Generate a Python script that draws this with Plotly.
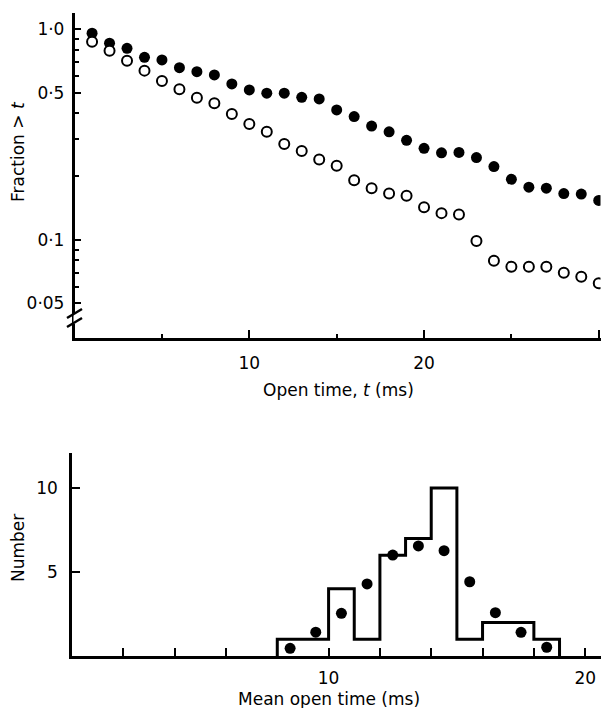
import plotly.graph_objects as go

# ---------------- data ----------------
open_time_t = list(range(1, 31))
fraction_filled = [0.957, 0.858, 0.812, 0.736, 0.715, 0.657, 0.629, 0.607, 0.550, 0.515,
                   0.497, 0.497, 0.475, 0.467, 0.414, 0.385, 0.347, 0.326, 0.297, 0.272,
                   0.259, 0.260, 0.246, 0.223, 0.194, 0.178, 0.176, 0.166, 0.165, 0.154]
fraction_open = [0.873, 0.791, 0.709, 0.636, 0.568, 0.519, 0.473, 0.445, 0.396, 0.355,
                 0.326, 0.285, 0.264, 0.241, 0.225, 0.192, 0.176, 0.166, 0.162, 0.143,
                 0.134, 0.132, 0.0988, 0.0797, 0.0746, 0.0746, 0.0746, 0.0699, 0.0669, 0.0622]

top_ytick_vals = [1.0, 0.5, 0.1, 0.05]
top_ytick_text = ["1·0", "0·5", "0·1", "0·05"]
top_yminor_vals = [0.9, 0.8, 0.7, 0.6, 0.4, 0.3, 0.2, 0.09, 0.08, 0.07, 0.06]
top_xtick_vals = [10, 20, 30]
top_xtick_text = ["10", "20", ""]
top_xminor_vals = [5, 15, 25]

hist_left_edges = [8, 9, 10, 11, 12, 13, 14, 15, 16, 17, 18]
hist_right_end = 19
hist_counts = [1, 1, 4, 1, 6, 7, 10, 1, 2, 2, 1]
fit_x = [8.5, 9.5, 10.5, 11.5, 12.5, 13.5, 14.5, 15.5, 16.5, 17.5, 18.5]
fit_y = [0.46, 1.42, 2.54, 4.29, 6.01, 6.55, 6.27, 4.42, 2.58, 1.41, 0.52]

bot_xtick_vals = [2, 4, 6, 8, 10, 12, 14, 16, 18, 20]
bot_xtick_text = ["", "", "", "", "10", "", "", "", "", "20"]
bot_ytick_vals = [5, 10]
bot_ytick_text = ["5", "10"]

# ---------------- geometry helpers ----------------
# the page body has an 8px margin, so the figure starts at (8, 8) in the window
OFF = 8
W, H = 609 - OFF, 708 - OFF
def px(x):
    return (x - OFF) / W
def py(y):
    return 1 - (y - OFF) / H

FONT = "DejaVu Sans"
FS = 17

fig = go.Figure()

# top panel
fig.add_trace(go.Scatter(
    x=open_time_t, y=fraction_filled, mode="markers",
    marker=dict(symbol="circle", size=11, color="black", line=dict(width=0)),
    xaxis="x", yaxis="y", showlegend=False))
fig.add_trace(go.Scatter(
    x=open_time_t, y=fraction_open, mode="markers",
    marker=dict(symbol="circle", size=10, color="white", line=dict(width=2, color="black")),
    xaxis="x", yaxis="y", showlegend=False))

# bottom panel: histogram outline
step_x = [hist_left_edges[0]] + hist_left_edges + [hist_right_end]
step_y = [0] + hist_counts + [0]
fig.add_trace(go.Scatter(
    x=step_x, y=step_y, mode="lines", line=dict(shape="hv", color="black", width=3),
    xaxis="x2", yaxis="y2", showlegend=False))
fig.add_trace(go.Scatter(
    x=fit_x, y=fit_y, mode="markers",
    marker=dict(symbol="circle", size=11, color="black"),
    xaxis="x2", yaxis="y2", showlegend=False))

axis_common = dict(showgrid=False, zeroline=False, showline=True, linecolor="black",
                   linewidth=2.5, tickcolor="black", tickwidth=2, ticks="inside",
                   tickfont=dict(family=FONT, size=FS, color="black"))

fig.update_layout(
    width=W, height=H,
    margin=dict(l=0, r=0, t=0, b=0),
    paper_bgcolor="white", plot_bgcolor="white",
    font=dict(family=FONT, size=FS, color="black"),
    xaxis=dict(domain=[px(74.6), px(600.5)], range=[0, 30.1], anchor="y",
               tickmode="array", tickvals=top_xtick_vals, ticktext=top_xtick_text,
               ticklen=9, ticklabelstandoff=8,
               minor=dict(tickmode="array", tickvals=top_xminor_vals, ticks="inside",
                          ticklen=5, tickwidth=2, tickcolor="black"),
               **axis_common),
    yaxis=dict(domain=[py(338.3), py(13)], type="log", range=[-1.467, 0.077], anchor="x",
               tickmode="array", tickvals=top_ytick_vals, ticktext=top_ytick_text,
               ticklen=7, ticklabelstandoff=4,
               minor=dict(tickmode="array", tickvals=top_yminor_vals, ticks="inside",
                          ticklen=5, tickwidth=2, tickcolor="black"),
               **axis_common),
    xaxis2=dict(domain=[px(72), px(607)], range=[0, 20.85], anchor="y2",
                tickmode="array", tickvals=bot_xtick_vals, ticktext=bot_xtick_text,
                ticklen=8, ticklabelstandoff=5, **axis_common),
    yaxis2=dict(domain=[py(656), py(452.7)], range=[0, 12.1], anchor="x2",
                tickmode="array", tickvals=bot_ytick_vals, ticktext=bot_ytick_text,
                ticklen=8, ticklabelstandoff=8, **axis_common),
)

# axis titles
ann = dict(xref="paper", yref="paper", showarrow=False,
           font=dict(family=FONT, size=FS, color="black"))
fig.add_annotation(text="Open time, <i>t</i> (ms)", x=px(338), y=py(390),
                   xanchor="center", yanchor="middle", **ann)
fig.add_annotation(text="Fraction > <i>t</i>", x=px(18), y=py(152), textangle=-90,
                   xanchor="center", yanchor="middle", **ann)
fig.add_annotation(text="Mean open time (ms)", x=px(329), y=py(699),
                   xanchor="center", yanchor="middle", **ann)
fig.add_annotation(text="Number", x=px(18), y=py(548), textangle=-90,
                   xanchor="center", yanchor="middle", **ann)

# axis break marks on top y axis
fig.add_shape(type="line", xref="paper", yref="paper", x0=px(75.5), x1=px(75.5),
              y0=py(313), y1=py(324), line=dict(color="white", width=4), layer="above")
fig.add_shape(type="line", xref="paper", yref="paper", x0=px(67), x1=px(82),
              y0=py(318), y1=py(309), line=dict(color="black", width=2.5), layer="above")
fig.add_shape(type="line", xref="paper", yref="paper", x0=px(67), x1=px(82),
              y0=py(327), y1=py(318), line=dict(color="black", width=2.5), layer="above")

fig.write_html("out.html")
